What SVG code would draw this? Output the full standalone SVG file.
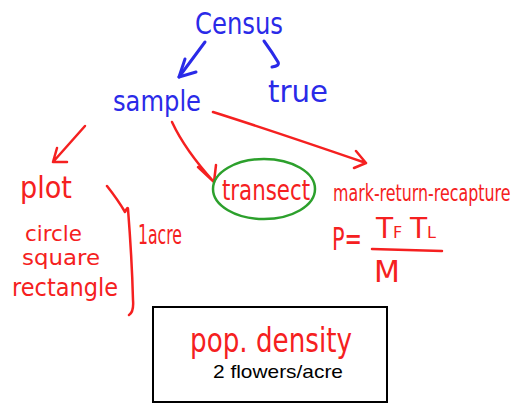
<svg xmlns="http://www.w3.org/2000/svg" width="522" height="405" viewBox="0 0 522 405">
<style>
.b{fill:#2a2ae8;font-family:"DejaVu Sans",sans-serif}
.r{fill:#f52020;font-family:"DejaVu Sans",sans-serif}
.bl{fill:none;stroke:#2a2ae8;stroke-width:3;stroke-linecap:round;stroke-linejoin:round}
.rl{fill:none;stroke:#f52020;stroke-width:2.5;stroke-linecap:round;stroke-linejoin:round}
</style>
<rect width="522" height="405" fill="#fff"/>
<g id="connectors">
<path class="bl" d="M205 42 L179 77"/>
<path class="bl" d="M179 77 L185 59 M179 77 L196 72"/>
<path class="bl" d="M264 41 Q272 52 278 62 Q280 66 272 67"/>
<path class="rl" d="M85 126 L53 162 M53 162 L57 148 M53 162 L67 162"/>
<path class="rl" d="M172 122 Q185 150 214 182 M214 182 L198 167 M214 182 L216 165"/>
<path class="rl" d="M213 112 Q270 130 366 163 M366 163 L356 151 M366 163 L354 168"/>
<path class="rl" d="M107 186 Q118 200 125 212 Q128 206 128 209 Q132 260 133 300 Q134 312 129 315"/>
</g>
<g id="census"><text class="b" x="195" y="34" font-size="30" textLength="88" lengthAdjust="spacingAndGlyphs">Census</text></g>
<g id="sample"><text class="b" x="113" y="111" font-size="28" textLength="88" lengthAdjust="spacingAndGlyphs">sample</text></g>
<g id="true"><text class="b" x="268" y="102" font-size="30" textLength="60" lengthAdjust="spacingAndGlyphs">true</text></g>
<g id="plot"><text class="r" x="20" y="198" font-size="30" textLength="52" lengthAdjust="spacingAndGlyphs">plot</text></g>
<g id="shapes">
<text class="r" x="25" y="241" font-size="22" textLength="57" lengthAdjust="spacingAndGlyphs">circle</text>
<text class="r" x="22" y="265" font-size="22" textLength="78" lengthAdjust="spacingAndGlyphs">square</text>
<text class="r" x="12" y="296" font-size="24" textLength="106" lengthAdjust="spacingAndGlyphs">rectangle</text>
</g>
<g id="acre"><text class="r" x="138" y="244" font-size="26" textLength="44" lengthAdjust="spacingAndGlyphs">1acre</text></g>
<g id="transect">
<ellipse cx="264" cy="189" rx="51" ry="30" fill="none" stroke="#2ca02c" stroke-width="2.5"/>
<text class="r" x="222" y="200" font-size="28" textLength="88" lengthAdjust="spacingAndGlyphs">transect</text>
</g>
<g id="mrr">
<text class="r" transform="translate(333 201) scale(0.69 1)" x="0" y="0" font-size="23">mark-return-recapture</text>
<text class="r" x="332" y="250" font-size="32" textLength="30" lengthAdjust="spacingAndGlyphs">P=</text>
<text class="r" x="376" y="238" font-size="28">T<tspan font-size="16">F</tspan></text>
<text class="r" x="410" y="238" font-size="28">T<tspan font-size="16">L</tspan></text>
<path class="rl" d="M372 249 L442 251"/>
<text class="r" x="374" y="282" font-size="30">M</text>
</g>
<g id="density">
<rect x="153" y="307" width="234" height="95" fill="#fff" stroke="#000" stroke-width="2"/>
<text class="r" x="190" y="352" font-size="34" textLength="162" lengthAdjust="spacingAndGlyphs">pop. density</text>
<text x="213" y="378" font-size="19" textLength="130" lengthAdjust="spacingAndGlyphs" font-family="Liberation Sans, Arial, sans-serif" fill="#000">2 flowers/acre</text>
</g>
</svg>
